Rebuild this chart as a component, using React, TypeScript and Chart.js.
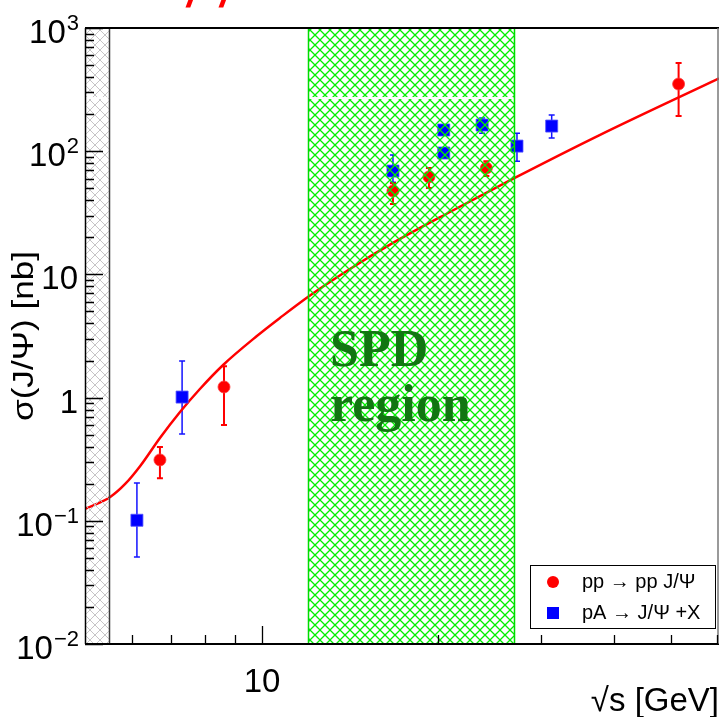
import React, { useEffect, useRef } from 'react';
import { Chart, registerables } from 'chart.js';

Chart.register(...registerables);

// ---- data ----
const ppEnergy = [6.69, 8.61, 16.75, 19.3, 24.2, 51.6];
const ppSigma = [0.312, 1.22, 47.5, 61.8, 73, 351];
const ppLow = [0.222, 0.6, 37.3, 50.3, 63, 193];
const ppHigh = [0.397, 1.8, 55, 73, 83, 520];

const pAEnergy = [6.11, 7.3, 16.75, 20.46, 20.46, 23.8, 27.3, 31.3];
const pASigma = [0.101, 1.01, 69, 148.6, 96.7, 163, 110, 160];
const pALow = [0.0508, 0.507, 56, 140, 88, 140, 83, 128];
const pAHigh = [0.203, 1.98, 93, 158, 106, 186, 140, 197];

const theoryEnergy = [4.98, 5.5, 5.834, 6.19, 6.69, 7.24, 7.83, 8.58, 9.8, 10.73, 11.98, 14.14, 16.75, 20.96, 26.85, 37.8, 60.5];
const theorySigma = [0.1247, 0.156, 0.199, 0.2786, 0.47, 0.764, 1.175, 1.84, 3.16, 4.43, 6.56, 11.07, 18.0, 32.1, 59.5, 135, 390];

const legendLabels = ['pp \u2192 pp J/\u03A8', 'pA \u2192 J/\u03A8 +X'];

const xMajorTicks = [10];
const xMinorTicks = [6, 7, 8, 9, 20, 30, 40, 50, 60];
const xTickLabels = ['10'];

const yMajorTicks = [0.01, 0.1, 1, 10, 100, 1000];
const yTickLabels = ['10^{\u22122}', '10^{\u22121}', '1', '10', '10^{2}', '10^{3}'];
const yMinorMultipliers = [2, 3, 4, 5, 6, 7, 8, 9];

const thresholdRegion = [4.98, 5.47];
const spdRegion = [12, 27];

const xRange = [4.98, 60.5];
const yRange = [0.01, 1000];

const SANS = '"Liberation Sans", Arial, Helvetica, sans-serif';
const SERIF = '"Liberation Serif", "Times New Roman", serif';

function makeHatch(ctx: CanvasRenderingContext2D, color: string, size: number, lw: number) {
  const c = document.createElement('canvas');
  c.width = size;
  c.height = size;
  const g = c.getContext('2d')!;
  g.strokeStyle = color;
  g.lineWidth = lw;
  g.beginPath();
  g.moveTo(-1, -1);
  g.lineTo(size + 1, size + 1);
  g.moveTo(size + 1, -1);
  g.lineTo(-1, size + 1);
  g.stroke();
  return ctx.createPattern(c, 'repeat')!;
}

function drawErrors(
  ctx: CanvasRenderingContext2D,
  xs: number[], lo: number[], hi: number[],
  color: string, lw: number, xS: any, yS: any
) {
  ctx.save();
  ctx.strokeStyle = color;
  ctx.lineWidth = lw;
  ctx.beginPath();
  for (let i = 0; i < xs.length; i++) {
    const px = xS.getPixelForValue(xs[i]);
    const pl = yS.getPixelForValue(lo[i]);
    const ph = yS.getPixelForValue(hi[i]);
    ctx.moveTo(px, pl);
    ctx.lineTo(px, ph);
    ctx.moveTo(px - 3, pl);
    ctx.lineTo(px + 3, pl);
    ctx.moveTo(px - 3, ph);
    ctx.lineTo(px + 3, ph);
  }
  ctx.stroke();
  ctx.restore();
}

const decorPlugin = {
  id: 'rootDecor',
  beforeDatasetsDraw(chart: any) {
    const { ctx, scales } = chart;
    const xS = scales.x, yS = scales.y;
    const a = chart.chartArea;
    ctx.save();
    ctx.beginPath();
    ctx.rect(a.left, a.top, a.right - a.left, a.bottom - a.top);
    ctx.clip();
    drawErrors(ctx, pAEnergy, pALow, pAHigh, 'rgb(20,20,255)', 1.5, xS, yS);
    drawErrors(ctx, ppEnergy, ppLow, ppHigh, 'rgb(255,0,0)', 2, xS, yS);
    ctx.restore();
  },
  afterDatasetsDraw(chart: any) {
    const { ctx, scales } = chart;
    const xS = scales.x, yS = scales.y;
    const a = chart.chartArea;

    // hatched regions
    ctx.save();
    ctx.beginPath();
    ctx.rect(a.left, a.top, a.right - a.left, a.bottom - a.top);
    ctx.clip();
    const gx0 = xS.getPixelForValue(thresholdRegion[0]);
    const gx1 = xS.getPixelForValue(thresholdRegion[1]);
    ctx.fillStyle = makeHatch(ctx, 'rgb(192,192,192)', 10, 0.9);
    ctx.fillRect(gx0, a.top, gx1 - gx0, a.bottom - a.top);
    const sx0 = xS.getPixelForValue(spdRegion[0]);
    const sx1 = xS.getPixelForValue(spdRegion[1]);
    ctx.fillStyle = makeHatch(ctx, 'rgb(0,240,0)', 10, 1.3);
    ctx.fillRect(sx0, a.top, sx1 - sx0, a.bottom - a.top);
    // white gap line across hatches
    const wy = yS.getPixelForValue(270);
    ctx.fillStyle = '#fff';
    ctx.fillRect(gx0 + 1, wy - 1, gx1 - gx0 - 2, 2);
    ctx.fillRect(sx0 + 1, wy - 1, sx1 - sx0 - 2, 2);
    // region borders
    ctx.strokeStyle = 'rgb(60,60,60)';
    ctx.lineWidth = 1.5;
    ctx.beginPath();
    ctx.moveTo(Math.round(gx1) + 0.5, a.top);
    ctx.lineTo(Math.round(gx1) + 0.5, a.bottom);
    ctx.stroke();
    ctx.strokeStyle = 'rgb(0,220,0)';
    ctx.lineWidth = 1.5;
    ctx.beginPath();
    ctx.moveTo(Math.round(sx0) + 0.5, a.top);
    ctx.lineTo(Math.round(sx0) + 0.5, a.bottom);
    ctx.moveTo(Math.round(sx1) + 0.5, a.top);
    ctx.lineTo(Math.round(sx1) + 0.5, a.bottom);
    ctx.stroke();
    ctx.restore();

    // SPD region text
    ctx.save();
    ctx.fillStyle = 'rgb(18,118,18)';
    ctx.font = 'bold 52px ' + SERIF;
    ctx.textAlign = 'left';
    ctx.textBaseline = 'alphabetic';
    ctx.fillText('SPD', 330, 366);
    ctx.fillText('region', 330, 421);
    ctx.restore();

    // frame
    ctx.save();
    ctx.strokeStyle = '#000';
    ctx.lineWidth = 2;
    ctx.beginPath();
    ctx.moveTo(a.left, a.top);
    ctx.lineTo(a.right, a.top);
    ctx.moveTo(a.left, a.bottom);
    ctx.lineTo(a.right, a.bottom);
    ctx.stroke();
    ctx.lineWidth = 1.5;
    ctx.beginPath();
    ctx.moveTo(a.left + 0.5, a.top);
    ctx.lineTo(a.left + 0.5, a.bottom);
    ctx.stroke();
    ctx.strokeStyle = 'rgb(120,120,120)';
    ctx.lineWidth = 1.5;
    ctx.beginPath();
    ctx.moveTo(a.right - 1, a.top);
    ctx.lineTo(a.right - 1, a.bottom);
    ctx.stroke();

    // ticks
    ctx.strokeStyle = '#000';
    ctx.lineWidth = 1.3;
    ctx.beginPath();
    for (const v of xMajorTicks) {
      const px = Math.round(xS.getPixelForValue(v)) + 0.5;
      ctx.moveTo(px, a.bottom);
      ctx.lineTo(px, a.bottom - 18);
    }
    for (const v of xMinorTicks) {
      const px = Math.round(xS.getPixelForValue(v)) + 0.5;
      ctx.moveTo(px, a.bottom);
      ctx.lineTo(px, a.bottom - 9);
    }
    for (const v of yMajorTicks) {
      const py = Math.round(yS.getPixelForValue(v)) + 0.5;
      ctx.moveTo(a.left, py);
      ctx.lineTo(a.left + 18, py);
      if (v < yRange[1]) {
        for (const m of yMinorMultipliers) {
          const q = Math.round(yS.getPixelForValue(v * m)) + 0.5;
          ctx.moveTo(a.left, q);
          ctx.lineTo(a.left + 9, q);
        }
      }
    }
    ctx.stroke();

    // y tick labels
    ctx.fillStyle = '#000';
    ctx.textBaseline = 'alphabetic';
    ctx.textAlign = 'right';
    yMajorTicks.forEach((v, i) => {
      const py = yS.getPixelForValue(v);
      const lab = yTickLabels[i];
      const m = lab.match(/^(.*)\^\{(.*)\}$/);
      const right = 79;
      if (m) {
        ctx.font = '22px ' + SANS;
        ctx.fillText(m[2], right, py + 2);
        const w = ctx.measureText(m[2]).width;
        ctx.font = '33px ' + SANS;
        ctx.fillText(m[1], right - w - 1, py + 15);
      } else {
        ctx.font = '33px ' + SANS;
        ctx.fillText(lab, right - 1, py + 15);
      }
    });

    // x tick labels
    ctx.textAlign = 'center';
    ctx.font = '33px ' + SANS;
    xMajorTicks.forEach((v, i) => {
      const px = xS.getPixelForValue(v);
      ctx.fillText(xTickLabels[i], px, 692);
    });

    // axis titles
    ctx.font = '33px ' + SANS;
    ctx.textAlign = 'right';
    ctx.fillText('\u221As [GeV]', 719, 711);

    ctx.save();
    ctx.translate(33, (a.top + a.bottom) / 2);
    ctx.rotate(-Math.PI / 2);
    ctx.scale(1.17, 1);
    ctx.textAlign = 'center';
    ctx.font = '30px ' + SANS;
    ctx.fillText('\u03C3(J/\u03A8) [nb]', 0, 0);
    ctx.restore();

    // legend
    const lx0 = 530, ly0 = 565, lx1 = 715, ly1 = 628;
    ctx.fillStyle = '#fff';
    ctx.fillRect(lx0, ly0, lx1 - lx0, ly1 - ly0);
    ctx.strokeStyle = '#000';
    ctx.lineWidth = 1;
    ctx.strokeRect(lx0 + 0.5, ly0 + 0.5, lx1 - lx0, ly1 - ly0);
    const rowY = [582, 613];
    ctx.fillStyle = 'rgb(255,0,0)';
    ctx.beginPath();
    ctx.arc(553, rowY[0], 6, 0, Math.PI * 2);
    ctx.fill();
    ctx.fillStyle = 'rgb(0,0,255)';
    ctx.fillRect(553 - 6, rowY[1] - 6, 12, 12);
    ctx.fillStyle = '#000';
    ctx.font = '20px ' + SANS;
    ctx.textAlign = 'left';
    ctx.textBaseline = 'middle';
    legendLabels.forEach((t, i) => ctx.fillText(t, 582, rowY[i]));

    // cropped red title fragment
    ctx.fillStyle = 'rgb(255,0,0)';
    ctx.font = 'italic bold 40px ' + SANS;
    ctx.textBaseline = 'alphabetic';
    ctx.textAlign = 'left';
    ctx.fillText('/', 187, 7);
    ctx.fillText('/', 220, 7);
    ctx.restore();
  },
};

export default function App() {
  const ref = useRef<HTMLCanvasElement | null>(null);
  useEffect(() => {
    document.body.style.margin = '0';
    const canvas = ref.current!;
    const chart = new Chart(canvas, {
      type: 'scatter',
      data: {
        datasets: [
          {
            label: 'theory',
            data: theoryEnergy.map((x, i) => ({ x, y: theorySigma[i] })),
            showLine: true,
            borderColor: 'rgb(255,0,0)',
            borderWidth: 2.5,
            pointRadius: 0,
            cubicInterpolationMode: 'monotone',
            fill: false,
            order: 3,
          } as any,
          {
            label: legendLabels[0],
            data: ppEnergy.map((x, i) => ({ x, y: ppSigma[i] })),
            pointStyle: 'circle',
            pointRadius: 6,
            pointBackgroundColor: 'rgb(255,0,0)',
            pointBorderColor: 'rgba(255,60,60,0.8)',
            pointBorderWidth: 1,
            showLine: false,
            order: 2,
          },
          {
            label: legendLabels[1],
            data: pAEnergy.map((x, i) => ({ x, y: pASigma[i] })),
            pointStyle: 'rect',
            pointRadius: 8.5,
            pointBackgroundColor: 'rgb(0,0,255)',
            pointBorderColor: 'rgba(80,80,255,0.8)',
            pointBorderWidth: 1,
            showLine: false,
            order: 1,
          },
        ],
      },
      options: {
        responsive: false,
        animation: false,
        devicePixelRatio: 1,
        layout: { autoPadding: false, padding: { left: 85, top: 28, right: 1, bottom: 73 } },
        plugins: {
          legend: { display: false },
          tooltip: { enabled: false },
          title: { display: false },
        },
        scales: {
          x: { type: 'logarithmic', min: xRange[0], max: xRange[1], display: false, ticks: { display: false }, grid: { display: false } },
          y: { type: 'logarithmic', min: yRange[0], max: yRange[1], display: false, ticks: { display: false }, grid: { display: false } },
        },
      } as any,
      plugins: [decorPlugin],
    });
    return () => chart.destroy();
  }, []);
  return (
    <div style={{ position: 'absolute', left: 0, top: 0, width: 720, height: 717, background: '#fff' }}>
      <canvas ref={ref} width={720} height={717} style={{ display: 'block', width: 720, height: 717 }} />
    </div>
  );
}
